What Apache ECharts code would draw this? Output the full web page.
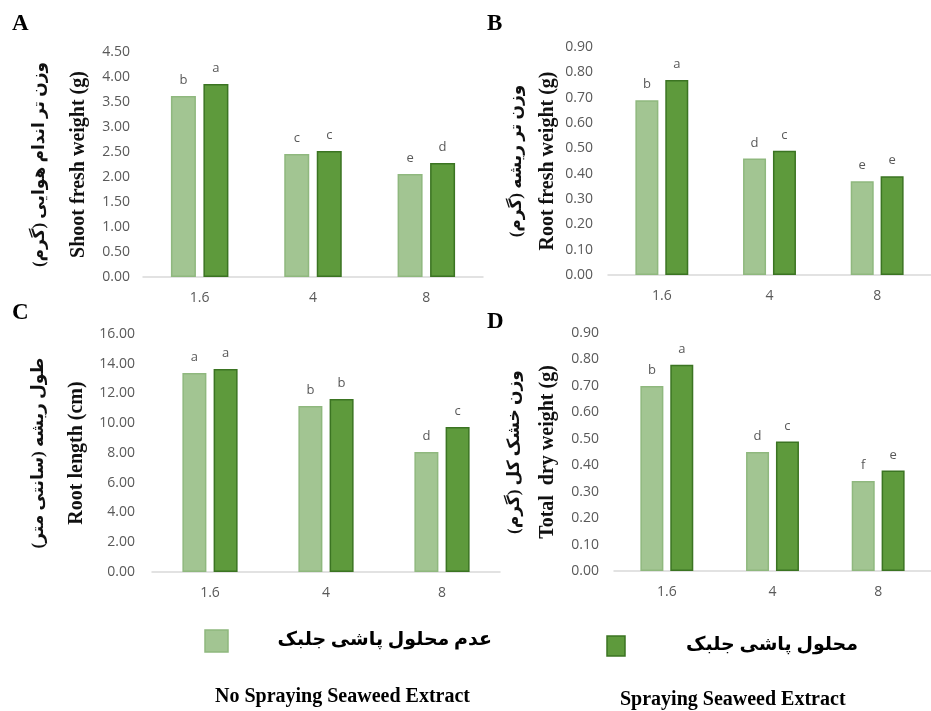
<!DOCTYPE html>
<html><head><meta charset="utf-8">
<script src="https://cdn.jsdelivr.net/npm/echarts@6/dist/echarts.min.js"></script>
<style>html,body{margin:0;padding:0;background:#fff}#c{width:931px;height:711px}</style>
</head><body><div id="c"></div>
<script>
const categories = ['1.6', '4', '8'];
// Panel A: Shoot fresh weight (g)
const aNone = [3.62, 2.46, 2.06];
const aSpray = [3.86, 2.52, 2.28];
const aNoneLetters = ['b', 'c', 'e'];
const aSprayLetters = ['a', 'c', 'd'];
// Panel B: Root fresh weight (g)
const bNone = [0.69, 0.46, 0.37];
const bSpray = [0.77, 0.49, 0.39];
const bNoneLetters = ['b', 'd', 'e'];
const bSprayLetters = ['a', 'c', 'e'];
// Panel C: Root length (cm)
const cNone = [13.38, 11.16, 8.07];
const cSpray = [13.65, 11.63, 9.75];
const cNoneLetters = ['a', 'b', 'd'];
const cSprayLetters = ['a', 'b', 'c'];
// Panel D: Total dry weight (g)
const dNone = [0.70, 0.45, 0.34];
const dSpray = [0.78, 0.49, 0.38];
const dNoneLetters = ['b', 'd', 'f'];
const dSprayLetters = ['a', 'c', 'e'];

const panelLetters = ['A', 'B', 'C', 'D'];
const yTitlesFa = ['وزن تر اندام هوایی (گرم)', 'وزن تر ریشه (گرم)', 'طول ریشه (سانتی متر)', 'وزن خشک کل (گرم)'];
const yTitlesEn = ['Shoot fresh weight (g)', 'Root fresh weight (g)', 'Root length (cm)', 'Total  dry weight (g)'];
const yMax = [4.5, 0.9, 16, 0.9];
const yInterval = [0.5, 0.1, 2, 0.1];
const legendFa = ['عدم محلول پاشی جلبک', 'محلول پاشی جلبک'];
const legendEn = ['No Spraying Seaweed Extract', 'Spraying Seaweed Extract'];

const LIGHT = '#a2c592', LIGHT_B = '#8fb87e';
const DARK = '#5e9a3c', DARK_B = '#3b7422';
const serif = '"Liberation Serif","Times New Roman","DejaVu Sans",serif';
const sans = '"Open Sans","Liberation Sans",sans-serif';

const grids = [
  {left: 143, top: 52, width: 340, height: 225},
  {left: 608, top: 47, width: 325, height: 228},
  {left: 152, top: 334, width: 348, height: 238},
  {left: 614, top: 333, width: 330, height: 238}
];
const nameGaps = [51, 47, 62, 53];
const faLineHeights = [52, 36, 50, 40];
const labelMargins = [13, 15, 17, 15];
const barWidths = [25, 23, 24, 23];

const nones = [aNone, bNone, cNone, dNone];
const sprays = [aSpray, bSpray, cSpray, dSpray];
const noneL = [aNoneLetters, bNoneLetters, cNoneLetters, dNoneLetters];
const sprayL = [aSprayLetters, bSprayLetters, cSprayLetters, dSprayLetters];

const xAxis = [], yAxis = [], series = [];
for (let i = 0; i < 4; i++) {
  xAxis.push({
    type: 'category', gridIndex: i, data: categories,
    axisLine: {lineStyle: {color: '#d9d9d9', width: 1.5}},
    axisTick: {show: false},
    axisLabel: {color: '#595959', fontSize: 14, fontFamily: sans, margin: 14}
  });
  yAxis.push({
    type: 'value', gridIndex: i, min: 0, max: yMax[i], interval: yInterval[i],
    axisLine: {show: false}, axisTick: {show: false}, splitLine: {show: false},
    axisLabel: {color: '#595959', fontSize: 14, fontFamily: sans, margin: labelMargins[i],
      formatter: v => v.toFixed(2)},
    name: '{fa|' + yTitlesFa[i] + '}\n{en|' + yTitlesEn[i] + '}',
    nameLocation: 'middle', nameRotate: 90, nameGap: nameGaps[i],
    nameTextStyle: {
      rich: {
        fa: {fontSize: 17, fontWeight: 'bold', fontFamily: serif, color: '#111', lineHeight: faLineHeights[i]},
        en: {fontSize: 20, fontWeight: 'bold', fontFamily: serif, color: '#111', lineHeight: 26}
      }
    }
  });
  const mk = (vals, letters, color, border, name) => ({
    type: 'bar', name: name, xAxisIndex: i, yAxisIndex: i,
    data: vals, barWidth: barWidths[i], barGap: '30%',
    itemStyle: {color: color, borderColor: border, borderWidth: 1.5},
    label: {show: true, position: 'top', distance: 9, color: '#595959', fontSize: 13, fontFamily: sans,
      formatter: p => letters[p.dataIndex]},
    silent: true
  });
  series.push(mk(nones[i], noneL[i], LIGHT, LIGHT_B, legendEn[0]));
  series.push(mk(sprays[i], sprayL[i], DARK, DARK_B, legendEn[1]));
}

const letterPos = [[12, 13], [487, 13], [12, 302], [487, 311]];
const graphic = panelLetters.map((t, i) => ({
  type: 'text', left: letterPos[i][0], top: letterPos[i][1],
  style: {text: t, font: 'bold 23px ' + serif, fill: '#000'}
}));
graphic.push(
  {type: 'rect', shape: {x: 205, y: 630, width: 23, height: 22}, style: {fill: LIGHT, stroke: LIGHT_B, lineWidth: 1.5}},
  {type: 'text', x: 492, y: 640, style: {text: legendFa[0], font: 'bold 19px ' + serif, fill: '#000', textAlign: 'right', textVerticalAlign: 'middle'}},
  {type: 'text', x: 215, y: 697, style: {text: legendEn[0], font: 'bold 20px ' + serif, fill: '#000', textAlign: 'left', textVerticalAlign: 'middle'}},
  {type: 'rect', shape: {x: 607, y: 636, width: 18, height: 20}, style: {fill: DARK, stroke: DARK_B, lineWidth: 1.5}},
  {type: 'text', x: 858, y: 645, style: {text: legendFa[1], font: 'bold 19px ' + serif, fill: '#000', textAlign: 'right', textVerticalAlign: 'middle'}},
  {type: 'text', x: 620, y: 700, style: {text: legendEn[1], font: 'bold 20px ' + serif, fill: '#000', textAlign: 'left', textVerticalAlign: 'middle'}}
);

const chart = echarts.init(document.getElementById('c'), null, {renderer: 'canvas'});
chart.setOption({
  animation: false, backgroundColor: '#fff',
  grid: grids.map(g => Object.assign({containLabel: false}, g)),
  xAxis: xAxis, yAxis: yAxis, series: series, graphic: graphic
});
</script></body></html>
